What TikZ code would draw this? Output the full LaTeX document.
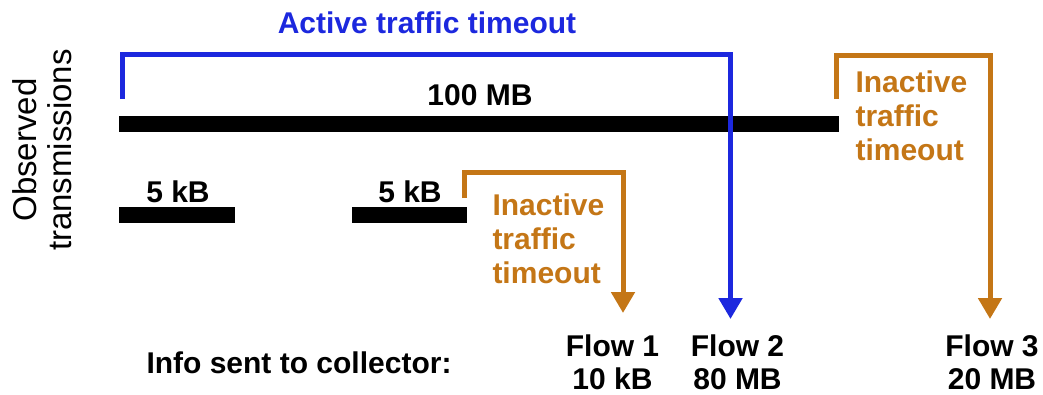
\documentclass[tikz,border=0pt]{standalone}
\usepackage{fontspec}
\setmainfont{Liberation Sans}
\usetikzlibrary{arrows.meta,positioning}
\definecolor{actblue}{RGB}{28,40,222}
\definecolor{idleorange}{RGB}{196,118,22}
\begin{document}
\begin{tikzpicture}[x=1pt, y=-1pt,
  line width=5pt, font=\fontsize{30}{33}\selectfont\bfseries,
  txbar/.style={rectangle, inner sep=0pt, minimum height=16pt, fill=black},
  label/.style={inner sep=0pt, anchor=base},
  active/.style={draw=actblue, -{Triangle[width=23pt,length=21pt]}},
  inactive/.style={draw=idleorange, -{Triangle[width=23pt,length=21pt]}},
  timeout/.style={inner sep=0pt, anchor=north west, align=left, text=idleorange, font=\fontsize{30}{34}\selectfont\bfseries},
  flow/.style={inner sep=0pt, anchor=north, align=center}
]
\useasboundingbox (0,0) rectangle (1043,394);

\node[rotate=90, align=center, inner sep=0pt, font=\fontsize{33}{35}\selectfont] (obs) at (42,150) {Observed\\transmissions};

\node[txbar, minimum width=720pt] (bar100) at (479,124) {};
\node[txbar, minimum width=116pt] (bar5a) at (177,215) {};
\node[txbar, minimum width=115pt] (bar5b) at (409.5,215) {};

\node[label, text=actblue] (acttitle) at (427,33) {Active traffic timeout};
\node[label] (size100) at (480,105) {100 MB};
\node[label] (size5a) at (178,202) {5 kB};
\node[label] (size5b) at (410,202) {5 kB};

\node[timeout] (idle3) at (853,68.5) {Inactive\\traffic\\timeout};
\node[timeout] (idle1) at (490,191.5) {Inactive\\traffic\\timeout};

\node[label, anchor=base west] (info) at (144,373) {Info sent to collector:};
\node[flow] (flow1) at (612.5,332) {Flow 1\\10 kB};
\node[flow] (flow2) at (737.5,332) {Flow 2\\80 MB};
\node[flow] (flow3) at (992,332) {Flow 3\\20 MB};

\coordinate (act0) at (122,99);
\coordinate (act1) at (730.5,319);
\coordinate (idle3a) at (836.5,99);
\coordinate (idle3b) at (990,319);
\coordinate (idle1a) at (464.5,198);
\coordinate (idle1b) at (623,313);

\draw[active] (act0) -- (122,54) -| (act1);
\draw[inactive] (idle3a) -- (836.5,55) -| (idle3b);
\draw[inactive] (idle1a) -- (464.5,172) -| (idle1b);

\end{tikzpicture}
\end{document}
